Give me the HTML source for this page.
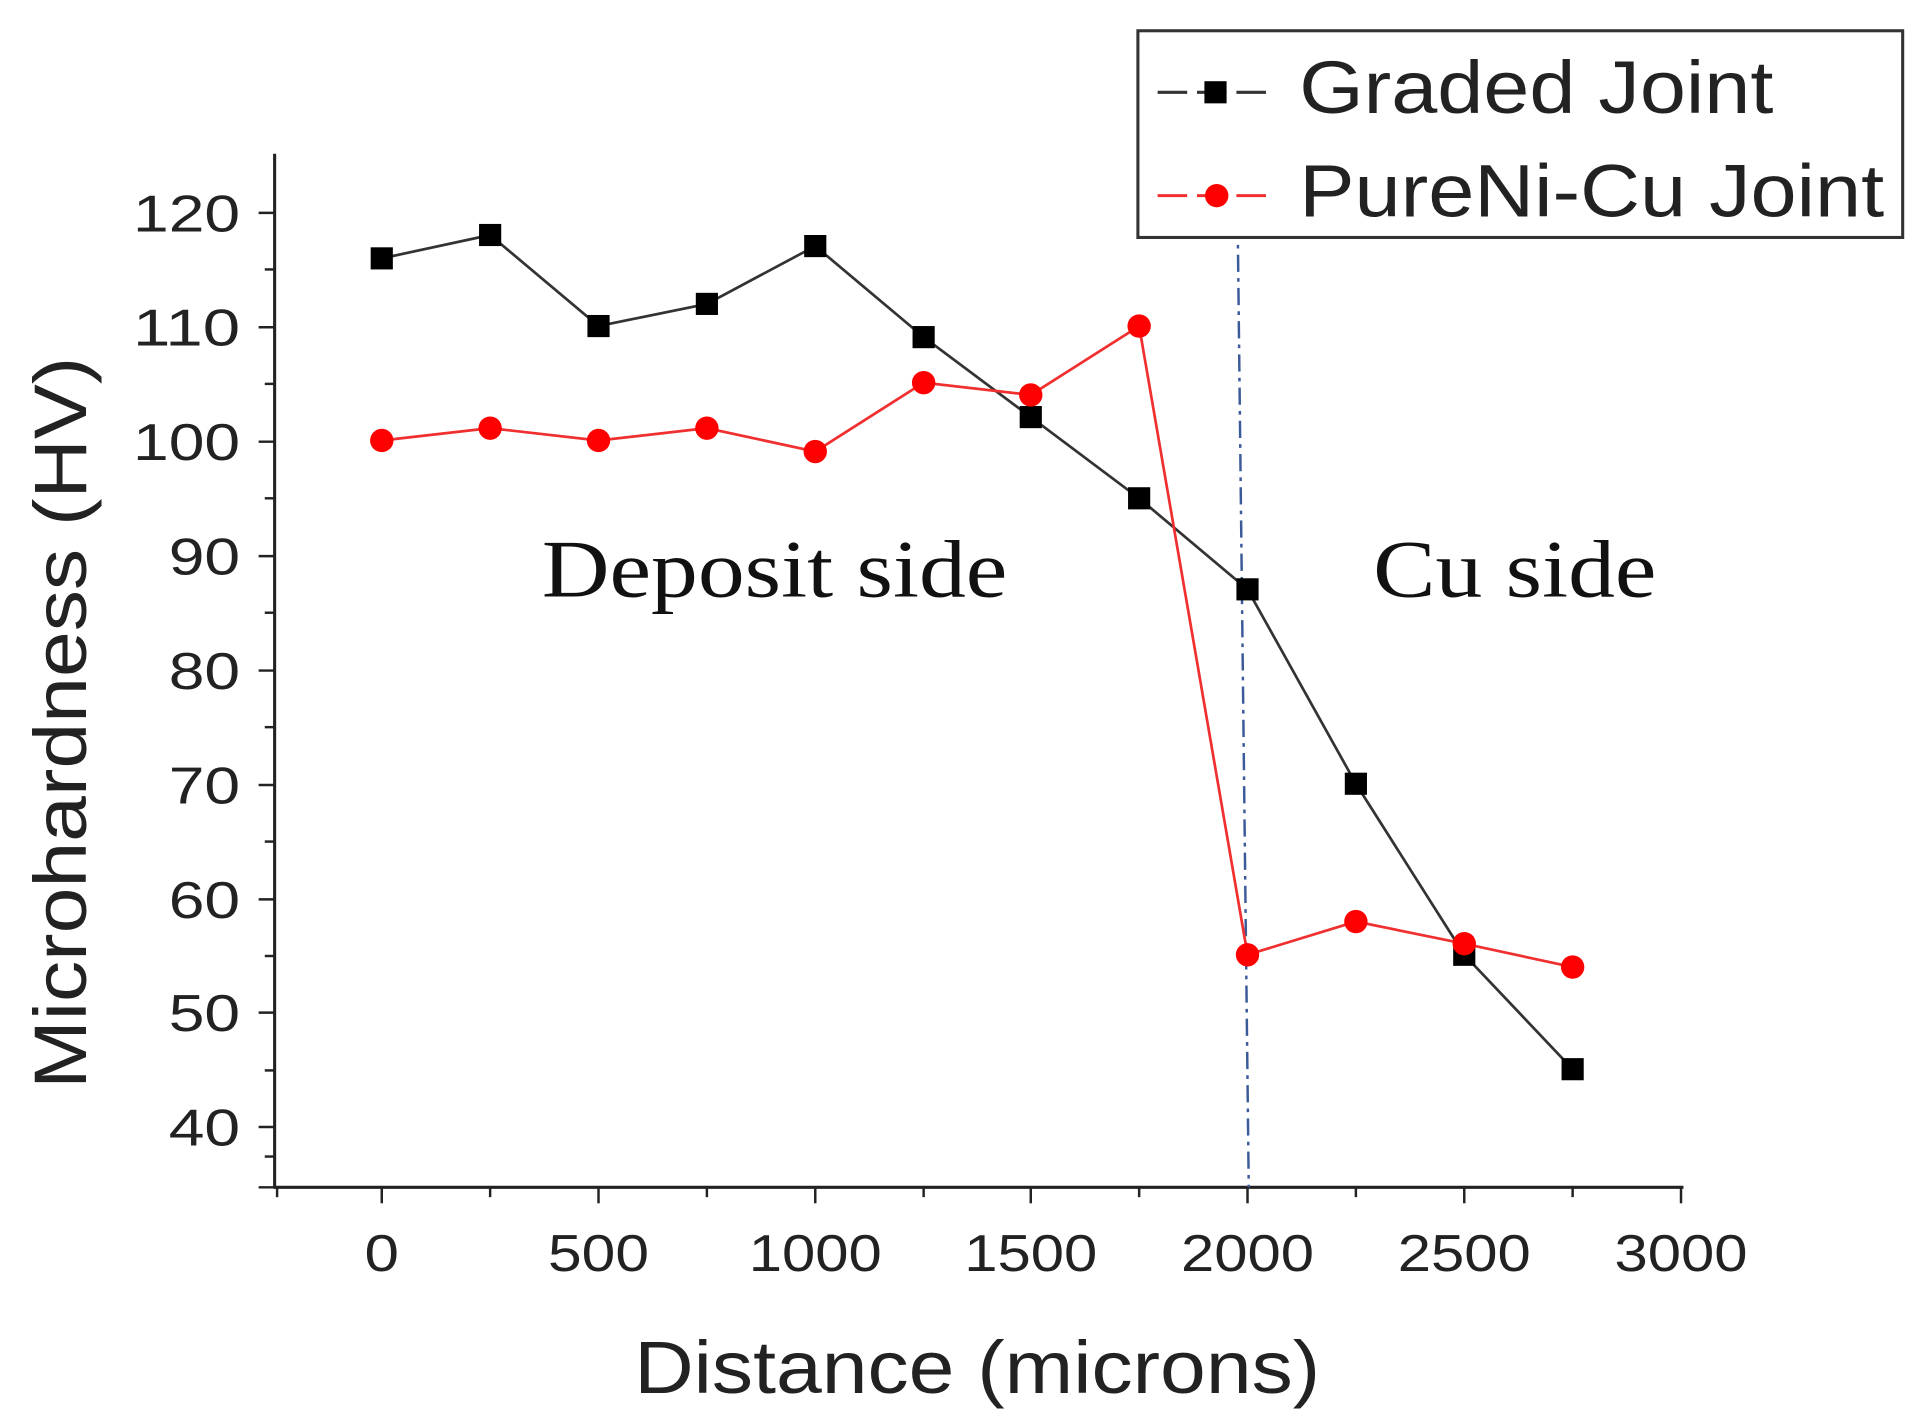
<!DOCTYPE html>
<html><head><style>html,body{margin:0;padding:0;background:#fff;}svg{display:block}</style></head>
<body>
<svg width="1931" height="1426" viewBox="0 0 1568 1159" preserveAspectRatio="none" xmlns="http://www.w3.org/2000/svg">
<rect width="1568" height="1159" fill="#fff"/>
<g stroke="#222" stroke-width="2.5" fill="none">
<line x1="223" y1="125" x2="223" y2="966"/>
<line x1="222" y1="965" x2="1367" y2="965"/>
</g>
<g stroke="#222" stroke-width="2">
<line x1="210" y1="173" x2="223" y2="173"/><line x1="215" y1="219" x2="223" y2="219"/>
<line x1="210" y1="266" x2="223" y2="266"/><line x1="215" y1="312" x2="223" y2="312"/>
<line x1="210" y1="359" x2="223" y2="359"/><line x1="215" y1="405" x2="223" y2="405"/>
<line x1="210" y1="452" x2="223" y2="452"/><line x1="215" y1="498" x2="223" y2="498"/>
<line x1="210" y1="545" x2="223" y2="545"/><line x1="215" y1="591" x2="223" y2="591"/>
<line x1="210" y1="638" x2="223" y2="638"/><line x1="215" y1="684" x2="223" y2="684"/>
<line x1="210" y1="731" x2="223" y2="731"/><line x1="215" y1="777" x2="223" y2="777"/>
<line x1="210" y1="823" x2="223" y2="823"/><line x1="215" y1="870" x2="223" y2="870"/>
<line x1="210" y1="916" x2="223" y2="916"/><line x1="215" y1="940" x2="223" y2="940"/>
<line x1="210" y1="965" x2="223" y2="965"/>
<line x1="310" y1="965" x2="310" y2="978"/><line x1="398" y1="965" x2="398" y2="973"/>
<line x1="486" y1="965" x2="486" y2="978"/><line x1="574" y1="965" x2="574" y2="973"/>
<line x1="662" y1="965" x2="662" y2="978"/><line x1="750" y1="965" x2="750" y2="973"/>
<line x1="837" y1="965" x2="837" y2="978"/><line x1="925" y1="965" x2="925" y2="973"/>
<line x1="1013" y1="965" x2="1013" y2="978"/><line x1="1101" y1="965" x2="1101" y2="973"/>
<line x1="1189" y1="965" x2="1189" y2="978"/><line x1="1277" y1="965" x2="1277" y2="973"/>
<line x1="1365" y1="965" x2="1365" y2="978"/><line x1="225" y1="965" x2="225" y2="973"/>
</g>
<g font-family="Liberation Sans, sans-serif" font-size="42" fill="#222" lengthAdjust="spacingAndGlyphs">
<text x="108" y="188" textLength="87" lengthAdjust="spacingAndGlyphs">120</text>
<text x="108" y="281" textLength="87" lengthAdjust="spacingAndGlyphs">110</text>
<text x="108" y="374" textLength="87" lengthAdjust="spacingAndGlyphs">100</text>
<text x="137" y="467" textLength="58" lengthAdjust="spacingAndGlyphs">90</text>
<text x="137" y="560" textLength="58" lengthAdjust="spacingAndGlyphs">80</text>
<text x="137" y="653" textLength="58" lengthAdjust="spacingAndGlyphs">70</text>
<text x="137" y="746" textLength="58" lengthAdjust="spacingAndGlyphs">60</text>
<text x="137" y="838" textLength="58" lengthAdjust="spacingAndGlyphs">50</text>
<text x="137" y="931" textLength="58" lengthAdjust="spacingAndGlyphs">40</text>
</g>
<g font-family="Liberation Sans, sans-serif" font-size="42" fill="#222">
<text x="296" y="1033" textLength="28" lengthAdjust="spacingAndGlyphs">0</text>
<text x="445" y="1033" textLength="82" lengthAdjust="spacingAndGlyphs">500</text>
<text x="608" y="1033" textLength="108" lengthAdjust="spacingAndGlyphs">1000</text>
<text x="783" y="1033" textLength="108" lengthAdjust="spacingAndGlyphs">1500</text>
<text x="959" y="1033" textLength="108" lengthAdjust="spacingAndGlyphs">2000</text>
<text x="1135" y="1033" textLength="108" lengthAdjust="spacingAndGlyphs">2500</text>
<text x="1311" y="1033" textLength="108" lengthAdjust="spacingAndGlyphs">3000</text>
</g>
<text x="515" y="1132" textLength="557" lengthAdjust="spacingAndGlyphs" font-family="Liberation Sans, sans-serif" font-size="60" fill="#222">Distance (microns)</text>
<text transform="translate(70,885) rotate(-90)" textLength="595" lengthAdjust="spacingAndGlyphs" font-family="Liberation Sans, sans-serif" font-size="60" fill="#222">Microhardness (HV)</text>
<text x="440" y="485" textLength="378" lengthAdjust="spacingAndGlyphs" font-family="Liberation Serif, serif" font-size="66" fill="#111">Deposit side</text>
<text x="1115" y="485" textLength="230" lengthAdjust="spacingAndGlyphs" font-family="Liberation Serif, serif" font-size="66" fill="#111">Cu side</text>
<line x1="1005" y1="180" x2="1014" y2="965" stroke="#3a5a9a" stroke-width="2" stroke-dasharray="14,5,3,5"/>
<polyline fill="none" stroke="#333" stroke-width="2.2" points="310,210 398,191 486,265 574,247 662,200 750,274 837,339 925,405 1013,479 1101,637 1189,776 1277,869"/>
<g fill="#000">
<rect x="301" y="201" width="18" height="18"/><rect x="389" y="182" width="18" height="18"/><rect x="477" y="256" width="18" height="18"/>
<rect x="565" y="238" width="18" height="18"/><rect x="653" y="191" width="18" height="18"/><rect x="741" y="265" width="18" height="18"/>
<rect x="828" y="330" width="18" height="18"/><rect x="916" y="396" width="18" height="18"/><rect x="1004" y="470" width="18" height="18"/>
<rect x="1092" y="628" width="18" height="18"/><rect x="1180" y="767" width="18" height="18"/><rect x="1268" y="860" width="18" height="18"/>
</g>
<polyline fill="none" stroke="#f03030" stroke-width="2.2" points="310,358 398,348 486,358 574,348 662,367 750,311 837,321 925,265 1013,776 1101,749 1189,767 1277,786"/>
<g fill="#f00">
<circle cx="310" cy="358" r="9.5"/><circle cx="398" cy="348" r="9.5"/><circle cx="486" cy="358" r="9.5"/>
<circle cx="574" cy="348" r="9.5"/><circle cx="662" cy="367" r="9.5"/><circle cx="750" cy="311" r="9.5"/>
<circle cx="837" cy="321" r="9.5"/><circle cx="925" cy="265" r="9.5"/><circle cx="1013" cy="776" r="9.5"/>
<circle cx="1101" cy="749" r="9.5"/><circle cx="1189" cy="767" r="9.5"/><circle cx="1277" cy="786" r="9.5"/>
</g>
<rect x="924" y="25" width="621" height="168" fill="#fff" stroke="#333" stroke-width="2.5"/>
<line x1="940" y1="75" x2="1034" y2="75" stroke="#333" stroke-width="2.5" stroke-dasharray="24,8"/>
<rect x="978" y="66" width="18" height="18" fill="#000"/>
<line x1="940" y1="159" x2="1034" y2="159" stroke="#f03030" stroke-width="2.5" stroke-dasharray="24,8"/>
<circle cx="988" cy="159" r="9.5" fill="#f00"/>
<g font-family="Liberation Sans, sans-serif" font-size="60" fill="#222">
<text x="1055" y="92" textLength="385" lengthAdjust="spacingAndGlyphs">Graded Joint</text>
<text x="1055" y="176" textLength="475" lengthAdjust="spacingAndGlyphs">PureNi-Cu Joint</text>
</g>
</svg>
</body></html>
